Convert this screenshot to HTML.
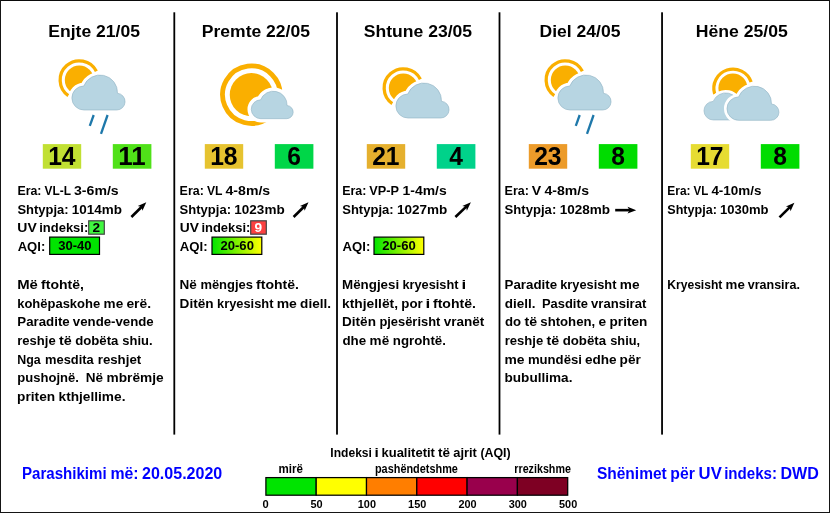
<!DOCTYPE html>
<html lang="sq"><head><meta charset="utf-8"><title>Parashikimi i motit</title>
<style>html,body{margin:0;padding:0;background:#fff}body{width:830px;height:513px;overflow:hidden}svg text{font-family:'Liberation Sans', sans-serif;font-weight:bold}</style></head>
<body>
<svg width="830" height="513" viewBox="0 0 830 513" style="display:block">
<rect x="0" y="0" width="830" height="513" fill="#fff"/>
<rect x="0" y="0" width="830" height="1" fill="#0a0a0a"/>
<rect x="0" y="0" width="1" height="513" fill="#151515"/>
<rect x="0" y="512" width="830" height="1" fill="#151515"/>
<rect x="829" y="0" width="1" height="513" fill="#151515"/>
<rect x="173.40" y="12.3" width="1.8" height="422.3" fill="#000"/>
<rect x="336.10" y="12.3" width="1.8" height="422.3" fill="#000"/>
<rect x="498.60" y="12.3" width="1.8" height="422.3" fill="#000"/>
<rect x="661.15" y="12.3" width="1.8" height="422.3" fill="#000"/>
<circle cx="79.3" cy="80" r="14.5" fill="#FAAF00"/>
<path d="M68.32 95.69A19.15 19.15 0 1 1 96.36 71.31" fill="none" stroke="#FAAF00" stroke-width="3.3"/>
<path d="M84.00 110.00A12.00 12.00 0 0 1 83.75 86.00A17.50 17.50 0 0 1 117.48 93.24A8.40 8.40 0 0 1 116.70 110.00Z" fill="#fff" stroke="#fff" stroke-width="6.60" stroke-linejoin="round"/><path d="M84.00 110.00A12.00 12.00 0 0 1 83.75 86.00A17.50 17.50 0 0 1 117.48 93.24A8.40 8.40 0 0 1 116.70 110.00Z" fill="#B7D5E2" stroke="#8FB2C3" stroke-width="0.6" stroke-linejoin="round"/>
<line x1="93.7" y1="115.0" x2="89.8" y2="125.9" stroke="#1E78AA" stroke-width="2.3"/><line x1="107.6" y1="115.0" x2="101.0" y2="133.9" stroke="#1E78AA" stroke-width="2.3"/>
<circle cx="251.35" cy="94.65" r="21.6" fill="#FAAF00"/>
<path d="M269.05 117.31A28.75 28.75 0 1 1 279.82 98.65" fill="none" stroke="#FAAF00" stroke-width="4.8"/>
<path d="M260.80 118.68A9.42 9.42 0 0 1 260.60 99.84A13.74 13.74 0 0 1 287.08 105.52A6.59 6.59 0 0 1 286.47 118.68Z" fill="#fff" stroke="#fff" stroke-width="7.60" stroke-linejoin="round"/><path d="M260.80 118.68A9.42 9.42 0 0 1 260.60 99.84A13.74 13.74 0 0 1 287.08 105.52A6.59 6.59 0 0 1 286.47 118.68Z" fill="#B7D5E2" stroke="#8FB2C3" stroke-width="0.6" stroke-linejoin="round"/>
<circle cx="403.3" cy="88" r="14.5" fill="#FAAF00"/>
<path d="M392.32 103.69A19.15 19.15 0 1 1 420.36 79.31" fill="none" stroke="#FAAF00" stroke-width="3.3"/>
<path d="M408.00 118.00A12.00 12.00 0 0 1 407.75 94.00A17.50 17.50 0 0 1 441.48 101.24A8.40 8.40 0 0 1 440.70 118.00Z" fill="#fff" stroke="#fff" stroke-width="6.60" stroke-linejoin="round"/><path d="M408.00 118.00A12.00 12.00 0 0 1 407.75 94.00A17.50 17.50 0 0 1 441.48 101.24A8.40 8.40 0 0 1 440.70 118.00Z" fill="#B7D5E2" stroke="#8FB2C3" stroke-width="0.6" stroke-linejoin="round"/>
<circle cx="565.3" cy="80" r="14.5" fill="#FAAF00"/>
<path d="M554.32 95.69A19.15 19.15 0 1 1 582.36 71.31" fill="none" stroke="#FAAF00" stroke-width="3.3"/>
<path d="M570.00 110.00A12.00 12.00 0 0 1 569.75 86.00A17.50 17.50 0 0 1 603.48 93.24A8.40 8.40 0 0 1 602.70 110.00Z" fill="#fff" stroke="#fff" stroke-width="6.60" stroke-linejoin="round"/><path d="M570.00 110.00A12.00 12.00 0 0 1 569.75 86.00A17.50 17.50 0 0 1 603.48 93.24A8.40 8.40 0 0 1 602.70 110.00Z" fill="#B7D5E2" stroke="#8FB2C3" stroke-width="0.6" stroke-linejoin="round"/>
<line x1="579.7" y1="115.0" x2="575.8" y2="125.9" stroke="#1E78AA" stroke-width="2.3"/><line x1="593.6" y1="115.0" x2="587.0" y2="133.9" stroke="#1E78AA" stroke-width="2.3"/>
<circle cx="732.9" cy="88" r="14.5" fill="#FAAF00"/>
<path d="M714.69 93.92A19.15 19.15 0 0 1 751.11 82.08" fill="none" stroke="#FAAF00" stroke-width="3.3"/>
<path d="M713.35 119.96A9.28 9.28 0 0 1 713.16 101.40A13.53 13.53 0 0 1 739.23 107.00A6.49 6.49 0 0 1 738.63 119.96Z" fill="#fff" stroke="#fff" stroke-width="6.00" stroke-linejoin="round"/><path d="M713.35 119.96A9.28 9.28 0 0 1 713.16 101.40A13.53 13.53 0 0 1 739.23 107.00A6.49 6.49 0 0 1 738.63 119.96Z" fill="#B7D5E2" stroke="#8FB2C3" stroke-width="0.6" stroke-linejoin="round"/>
<path d="M738.80 120.33A11.70 11.70 0 0 1 738.55 96.92A17.06 17.06 0 0 1 771.44 103.98A8.19 8.19 0 0 1 770.68 120.33Z" fill="#fff" stroke="#fff" stroke-width="6.00" stroke-linejoin="round"/><path d="M738.80 120.33A11.70 11.70 0 0 1 738.55 96.92A17.06 17.06 0 0 1 771.44 103.98A8.19 8.19 0 0 1 770.68 120.33Z" fill="#B7D5E2" stroke="#8FB2C3" stroke-width="0.6" stroke-linejoin="round"/>
<rect x="42.8" y="144.1" width="38.4" height="24.6" fill="#C1E033"/>
<rect x="112.8" y="144.1" width="38.6" height="24.6" fill="#50E119"/>
<rect x="204.8" y="144.1" width="38.4" height="24.6" fill="#E6C330"/>
<rect x="274.8" y="144.1" width="38.6" height="24.6" fill="#00D648"/>
<rect x="366.8" y="144.1" width="38.4" height="24.6" fill="#E5B02E"/>
<rect x="436.8" y="144.1" width="38.6" height="24.6" fill="#00D28A"/>
<rect x="528.8" y="144.1" width="38.4" height="24.6" fill="#EC9B2A"/>
<rect x="598.8" y="144.1" width="38.6" height="24.6" fill="#00DC00"/>
<rect x="690.8" y="144.1" width="38.4" height="24.6" fill="#E6DC32"/>
<rect x="760.8" y="144.1" width="38.6" height="24.6" fill="#00DC00"/>
<g transform="translate(131.40 217.00) rotate(-44.61)"><rect x="0" y="-1.3" width="14.93" height="2.6" fill="#000"/><path d="M20.93 0L12.23 -3.3L14.33 0L12.23 3.3Z" fill="#000"/></g>
<g transform="translate(293.60 217.00) rotate(-44.61)"><rect x="0" y="-1.3" width="14.93" height="2.6" fill="#000"/><path d="M20.93 0L12.23 -3.3L14.33 0L12.23 3.3Z" fill="#000"/></g>
<g transform="translate(455.40 217.00) rotate(-43.48)"><rect x="0" y="-1.3" width="15.36" height="2.6" fill="#000"/><path d="M21.36 0L12.66 -3.3L14.76 0L12.66 3.3Z" fill="#000"/></g>
<g transform="translate(615.20 210.15) rotate(0.00)"><rect x="0" y="-1.3" width="15.00" height="2.6" fill="#000"/><path d="M21.00 0L12.30 -3.3L14.40 0L12.30 3.3Z" fill="#000"/></g>
<g transform="translate(779.50 217.40) rotate(-44.61)"><rect x="0" y="-1.3" width="14.93" height="2.6" fill="#000"/><path d="M20.93 0L12.23 -3.3L14.33 0L12.23 3.3Z" fill="#000"/></g>
<rect x="88.7" y="220.8" width="15.6" height="13.4" fill="#40F840" stroke="#444" stroke-width="1.2"/>
<rect x="250.7" y="220.8" width="15.6" height="13.4" fill="#FC4040" stroke="#444" stroke-width="1.2"/>
<defs><linearGradient id="gy" x1="0" x2="1" y1="0" y2="0"><stop offset="0" stop-color="#00E400"/><stop offset="1" stop-color="#FFFF00"/></linearGradient></defs>
<rect x="49.7" y="237.1" width="49.8" height="17.3" fill="#00E400" stroke="#000" stroke-width="1.2"/>
<rect x="212.0" y="237.1" width="49.8" height="17.3" fill="url(#gy)" stroke="#000" stroke-width="1.2"/>
<rect x="374.0" y="237.1" width="49.8" height="17.3" fill="url(#gy)" stroke="#000" stroke-width="1.2"/>
<rect x="265.90" y="477.6" width="50.3" height="17.6" fill="#00E400" stroke="#000" stroke-width="1.25"/>
<rect x="316.20" y="477.6" width="50.3" height="17.6" fill="#FFFF00" stroke="#000" stroke-width="1.25"/>
<rect x="366.50" y="477.6" width="50.3" height="17.6" fill="#FF7E00" stroke="#000" stroke-width="1.25"/>
<rect x="416.80" y="477.6" width="50.3" height="17.6" fill="#FF0000" stroke="#000" stroke-width="1.25"/>
<rect x="467.10" y="477.6" width="50.3" height="17.6" fill="#99004C" stroke="#000" stroke-width="1.25"/>
<rect x="517.40" y="477.6" width="50.3" height="17.6" fill="#7E0023" stroke="#000" stroke-width="1.25"/>
<g font-family="'Liberation Sans', sans-serif" font-weight="bold">
<text x="61.85" y="165.00" font-size="26.2" text-anchor="middle" textLength="27.40" lengthAdjust="spacingAndGlyphs">14</text>
<text x="132.05" y="165.00" font-size="26.2" text-anchor="middle" textLength="27.40" lengthAdjust="spacingAndGlyphs">11</text>
<text x="223.85" y="165.00" font-size="26.2" text-anchor="middle" textLength="27.40" lengthAdjust="spacingAndGlyphs">18</text>
<text x="294.05" y="165.00" font-size="26.2" text-anchor="middle" textLength="13.70" lengthAdjust="spacingAndGlyphs">6</text>
<text x="385.85" y="165.00" font-size="26.2" text-anchor="middle" textLength="27.40" lengthAdjust="spacingAndGlyphs">21</text>
<text x="456.05" y="165.00" font-size="26.2" text-anchor="middle" textLength="13.70" lengthAdjust="spacingAndGlyphs">4</text>
<text x="547.85" y="165.00" font-size="26.2" text-anchor="middle" textLength="27.40" lengthAdjust="spacingAndGlyphs">23</text>
<text x="618.05" y="165.00" font-size="26.2" text-anchor="middle" textLength="13.70" lengthAdjust="spacingAndGlyphs">8</text>
<text x="709.85" y="165.00" font-size="26.2" text-anchor="middle" textLength="27.40" lengthAdjust="spacingAndGlyphs">17</text>
<text x="780.05" y="165.00" font-size="26.2" text-anchor="middle" textLength="13.70" lengthAdjust="spacingAndGlyphs">8</text>
<text x="48.26" y="36.80" font-size="17.33" textLength="91.72" lengthAdjust="spacingAndGlyphs">Enjte 21/05</text>
<text x="201.80" y="36.80" font-size="17.33" textLength="108.20" lengthAdjust="spacingAndGlyphs">Premte 22/05</text>
<text x="363.77" y="36.80" font-size="17.33" textLength="108.39" lengthAdjust="spacingAndGlyphs">Shtune 23/05</text>
<text x="539.53" y="36.80" font-size="17.33" textLength="80.93" lengthAdjust="spacingAndGlyphs">Diel 24/05</text>
<text x="695.80" y="36.80" font-size="17.33" textLength="92.03" lengthAdjust="spacingAndGlyphs">Hëne 25/05</text>
<text y="194.90" font-size="13.0" transform="translate(0 195.10) scale(1 1.035) translate(0 -194.90)"><tspan x="17.39" textLength="24.06" lengthAdjust="spacingAndGlyphs">Era:</tspan> <tspan x="44.54" textLength="26.35" lengthAdjust="spacingAndGlyphs">VL-L</tspan> <tspan x="74.03" textLength="44.70" lengthAdjust="spacingAndGlyphs">3-6m/s</tspan></text>
<text y="213.60" font-size="13.0" transform="translate(0 213.80) scale(1 1.035) translate(0 -213.60)"><tspan x="17.44" textLength="51.21" lengthAdjust="spacingAndGlyphs">Shtypja:</tspan> <tspan x="71.87" textLength="50.15" lengthAdjust="spacingAndGlyphs">1014mb</tspan></text>
<text y="232.30" font-size="13.0" transform="translate(0 232.50) scale(1 1.035) translate(0 -232.30)"><tspan x="17.37" textLength="19.38" lengthAdjust="spacingAndGlyphs">UV</tspan> <tspan x="39.20" textLength="49.04" lengthAdjust="spacingAndGlyphs">indeksi:</tspan></text>
<text y="251.00" font-size="13.0" transform="translate(0 251.20) scale(1 1.035) translate(0 -251.00)"><tspan x="17.69" textLength="27.57" lengthAdjust="spacingAndGlyphs">AQI:</tspan></text>
<text y="288.70" font-size="13.0" transform="translate(0 288.90) scale(1 1.035) translate(0 -288.70)"><tspan x="17.17" textLength="20.70" lengthAdjust="spacingAndGlyphs">Më</tspan> <tspan x="41.08" textLength="42.83" lengthAdjust="spacingAndGlyphs">ftohtë,</tspan></text>
<text y="307.40" font-size="13.0" transform="translate(0 307.60) scale(1 1.035) translate(0 -307.40)"><tspan x="17.18" textLength="83.02" lengthAdjust="spacingAndGlyphs">kohëpaskohe</tspan> <tspan x="103.58" textLength="19.59" lengthAdjust="spacingAndGlyphs">me</tspan> <tspan x="126.40" textLength="24.64" lengthAdjust="spacingAndGlyphs">erë.</tspan></text>
<text y="326.10" font-size="13.0" transform="translate(0 326.30) scale(1 1.035) translate(0 -326.10)"><tspan x="17.32" textLength="52.36" lengthAdjust="spacingAndGlyphs">Paradite</tspan> <tspan x="72.84" textLength="80.86" lengthAdjust="spacingAndGlyphs">vende-vende</tspan></text>
<text y="344.80" font-size="13.0" transform="translate(0 345.00) scale(1 1.035) translate(0 -344.80)"><tspan x="17.26" textLength="38.47" lengthAdjust="spacingAndGlyphs">reshje</tspan> <tspan x="58.97" textLength="12.79" lengthAdjust="spacingAndGlyphs">të</tspan> <tspan x="75.15" textLength="43.25" lengthAdjust="spacingAndGlyphs">dobëta</tspan> <tspan x="122.34" textLength="30.25" lengthAdjust="spacingAndGlyphs">shiu.</tspan></text>
<text y="363.50" font-size="13.0" transform="translate(0 363.70) scale(1 1.035) translate(0 -363.50)"><tspan x="17.24" textLength="23.42" lengthAdjust="spacingAndGlyphs">Nga</tspan> <tspan x="45.05" textLength="48.72" lengthAdjust="spacingAndGlyphs">mesdita</tspan> <tspan x="97.74" textLength="43.45" lengthAdjust="spacingAndGlyphs">reshjet</tspan></text>
<text y="382.20" font-size="13.0" transform="translate(0 382.40) scale(1 1.035) translate(0 -382.20)"><tspan x="17.35" textLength="61.56" lengthAdjust="spacingAndGlyphs">pushojnë.</tspan> <tspan x="85.85" textLength="17.32" lengthAdjust="spacingAndGlyphs">Në</tspan> <tspan x="106.55" textLength="57.15" lengthAdjust="spacingAndGlyphs">mbrëmje</tspan></text>
<text y="400.90" font-size="13.0" transform="translate(0 401.10) scale(1 1.035) translate(0 -400.90)"><tspan x="17.13" textLength="38.00" lengthAdjust="spacingAndGlyphs">priten</tspan> <tspan x="58.57" textLength="66.88" lengthAdjust="spacingAndGlyphs">kthjellime.</tspan></text>
<text y="194.90" font-size="13.0" transform="translate(0 195.10) scale(1 1.035) translate(0 -194.90)"><tspan x="179.61" textLength="24.18" lengthAdjust="spacingAndGlyphs">Era:</tspan> <tspan x="206.92" textLength="15.55" lengthAdjust="spacingAndGlyphs">VL</tspan> <tspan x="225.52" textLength="44.69" lengthAdjust="spacingAndGlyphs">4-8m/s</tspan></text>
<text y="213.60" font-size="13.0" transform="translate(0 213.80) scale(1 1.035) translate(0 -213.60)"><tspan x="179.60" textLength="51.45" lengthAdjust="spacingAndGlyphs">Shtypja:</tspan> <tspan x="234.35" textLength="50.30" lengthAdjust="spacingAndGlyphs">1023mb</tspan></text>
<text y="232.30" font-size="13.0" transform="translate(0 232.50) scale(1 1.035) translate(0 -232.30)"><tspan x="179.71" textLength="19.17" lengthAdjust="spacingAndGlyphs">UV</tspan> <tspan x="201.40" textLength="48.88" lengthAdjust="spacingAndGlyphs">indeksi:</tspan></text>
<text y="251.00" font-size="13.0" transform="translate(0 251.20) scale(1 1.035) translate(0 -251.00)"><tspan x="179.83" textLength="27.85" lengthAdjust="spacingAndGlyphs">AQI:</tspan></text>
<text y="288.70" font-size="13.0" transform="translate(0 288.90) scale(1 1.035) translate(0 -288.70)"><tspan x="179.61" textLength="17.32" lengthAdjust="spacingAndGlyphs">Në</tspan> <tspan x="200.41" textLength="52.53" lengthAdjust="spacingAndGlyphs">mëngjes</tspan> <tspan x="256.05" textLength="42.90" lengthAdjust="spacingAndGlyphs">ftohtë.</tspan></text>
<text y="307.40" font-size="13.0" transform="translate(0 307.60) scale(1 1.035) translate(0 -307.40)"><tspan x="179.60" textLength="34.00" lengthAdjust="spacingAndGlyphs">Ditën</tspan> <tspan x="217.05" textLength="56.39" lengthAdjust="spacingAndGlyphs">kryesisht</tspan> <tspan x="276.66" textLength="20.21" lengthAdjust="spacingAndGlyphs">me</tspan> <tspan x="300.13" textLength="30.90" lengthAdjust="spacingAndGlyphs">diell.</tspan></text>
<text y="194.90" font-size="13.0" transform="translate(0 195.10) scale(1 1.035) translate(0 -194.90)"><tspan x="342.26" textLength="24.16" lengthAdjust="spacingAndGlyphs">Era:</tspan> <tspan x="369.30" textLength="29.65" lengthAdjust="spacingAndGlyphs">VP-P</tspan> <tspan x="402.48" textLength="44.21" lengthAdjust="spacingAndGlyphs">1-4m/s</tspan></text>
<text y="213.60" font-size="13.0" transform="translate(0 213.80) scale(1 1.035) translate(0 -213.60)"><tspan x="342.20" textLength="51.41" lengthAdjust="spacingAndGlyphs">Shtypja:</tspan> <tspan x="396.97" textLength="50.32" lengthAdjust="spacingAndGlyphs">1027mb</tspan></text>
<text y="251.00" font-size="13.0" transform="translate(0 251.20) scale(1 1.035) translate(0 -251.00)"><tspan x="342.58" textLength="27.76" lengthAdjust="spacingAndGlyphs">AQI:</tspan></text>
<text y="288.70" font-size="13.0" transform="translate(0 288.90) scale(1 1.035) translate(0 -288.70)"><tspan x="342.09" textLength="57.08" lengthAdjust="spacingAndGlyphs">Mëngjesi</tspan> <tspan x="402.40" textLength="56.06" lengthAdjust="spacingAndGlyphs">kryesisht</tspan> <tspan x="461.60" textLength="4.71" lengthAdjust="spacingAndGlyphs">i</tspan></text>
<text y="307.40" font-size="13.0" transform="translate(0 307.60) scale(1 1.035) translate(0 -307.40)"><tspan x="342.03" textLength="55.96" lengthAdjust="spacingAndGlyphs">kthjellët,</tspan> <tspan x="401.31" textLength="21.41" lengthAdjust="spacingAndGlyphs">por</tspan> <tspan x="425.57" textLength="4.77" lengthAdjust="spacingAndGlyphs">i</tspan> <tspan x="433.02" textLength="42.94" lengthAdjust="spacingAndGlyphs">ftohtë.</tspan></text>
<text y="326.10" font-size="13.0" transform="translate(0 326.30) scale(1 1.035) translate(0 -326.10)"><tspan x="342.05" textLength="33.87" lengthAdjust="spacingAndGlyphs">Ditën</tspan> <tspan x="379.39" textLength="60.94" lengthAdjust="spacingAndGlyphs">pjesërisht</tspan> <tspan x="443.71" textLength="40.59" lengthAdjust="spacingAndGlyphs">vranët</tspan></text>
<text y="344.80" font-size="13.0" transform="translate(0 345.00) scale(1 1.035) translate(0 -344.80)"><tspan x="342.39" textLength="23.78" lengthAdjust="spacingAndGlyphs">dhe</tspan> <tspan x="369.61" textLength="19.56" lengthAdjust="spacingAndGlyphs">më</tspan> <tspan x="392.81" textLength="53.08" lengthAdjust="spacingAndGlyphs">ngrohtë.</tspan></text>
<text y="194.90" font-size="13.0" transform="translate(0 195.10) scale(1 1.035) translate(0 -194.90)"><tspan x="504.60" textLength="24.38" lengthAdjust="spacingAndGlyphs">Era:</tspan> <tspan x="531.81" textLength="9.41" lengthAdjust="spacingAndGlyphs">V</tspan> <tspan x="544.45" textLength="44.55" lengthAdjust="spacingAndGlyphs">4-8m/s</tspan></text>
<text y="213.60" font-size="13.0" transform="translate(0 213.80) scale(1 1.035) translate(0 -213.60)"><tspan x="504.53" textLength="51.74" lengthAdjust="spacingAndGlyphs">Shtypja:</tspan> <tspan x="559.65" textLength="50.44" lengthAdjust="spacingAndGlyphs">1028mb</tspan></text>
<text y="288.70" font-size="13.0" transform="translate(0 288.90) scale(1 1.035) translate(0 -288.70)"><tspan x="504.57" textLength="52.51" lengthAdjust="spacingAndGlyphs">Paradite</tspan> <tspan x="560.26" textLength="56.18" lengthAdjust="spacingAndGlyphs">kryesisht</tspan> <tspan x="619.88" textLength="19.72" lengthAdjust="spacingAndGlyphs">me</tspan></text>
<text y="307.40" font-size="13.0" transform="translate(0 307.60) scale(1 1.035) translate(0 -307.40)"><tspan x="504.75" textLength="30.68" lengthAdjust="spacingAndGlyphs">diell.</tspan> <tspan x="541.97" textLength="45.96" lengthAdjust="spacingAndGlyphs">Pasdite</tspan> <tspan x="591.07" textLength="55.25" lengthAdjust="spacingAndGlyphs">vransirat</tspan></text>
<text y="326.10" font-size="13.0" transform="translate(0 326.30) scale(1 1.035) translate(0 -326.10)"><tspan x="504.97" textLength="16.07" lengthAdjust="spacingAndGlyphs">do</tspan> <tspan x="524.57" textLength="12.61" lengthAdjust="spacingAndGlyphs">të</tspan> <tspan x="540.32" textLength="54.88" lengthAdjust="spacingAndGlyphs">shtohen,</tspan> <tspan x="598.47" textLength="7.65" lengthAdjust="spacingAndGlyphs">e</tspan> <tspan x="609.58" textLength="37.74" lengthAdjust="spacingAndGlyphs">priten</tspan></text>
<text y="344.80" font-size="13.0" transform="translate(0 345.00) scale(1 1.035) translate(0 -344.80)"><tspan x="504.68" textLength="38.49" lengthAdjust="spacingAndGlyphs">reshje</tspan> <tspan x="546.51" textLength="12.71" lengthAdjust="spacingAndGlyphs">të</tspan> <tspan x="562.67" textLength="43.50" lengthAdjust="spacingAndGlyphs">dobëta</tspan> <tspan x="610.25" textLength="29.91" lengthAdjust="spacingAndGlyphs">shiu,</tspan></text>
<text y="363.50" font-size="13.0" transform="translate(0 363.70) scale(1 1.035) translate(0 -363.50)"><tspan x="504.44" textLength="20.05" lengthAdjust="spacingAndGlyphs">me</tspan> <tspan x="527.91" textLength="53.98" lengthAdjust="spacingAndGlyphs">mundësi</tspan> <tspan x="584.88" textLength="31.64" lengthAdjust="spacingAndGlyphs">edhe</tspan> <tspan x="619.59" textLength="21.22" lengthAdjust="spacingAndGlyphs">për</tspan></text>
<text y="382.20" font-size="13.0" transform="translate(0 382.40) scale(1 1.035) translate(0 -382.20)"><tspan x="504.54" textLength="67.88" lengthAdjust="spacingAndGlyphs">bubullima.</tspan></text>
<text y="194.90" font-size="13.0" transform="translate(0 195.10) scale(1 1.035) translate(0 -194.90)"><tspan x="667.32" textLength="23.16" lengthAdjust="spacingAndGlyphs">Era:</tspan> <tspan x="693.57" textLength="14.74" lengthAdjust="spacingAndGlyphs">VL</tspan> <tspan x="711.41" textLength="50.10" lengthAdjust="spacingAndGlyphs">4-10m/s</tspan></text>
<text y="213.60" font-size="13.0" transform="translate(0 213.80) scale(1 1.035) translate(0 -213.60)"><tspan x="667.30" textLength="49.59" lengthAdjust="spacingAndGlyphs">Shtypja:</tspan> <tspan x="720.01" textLength="48.61" lengthAdjust="spacingAndGlyphs">1030mb</tspan></text>
<text y="288.70" font-size="13.0" transform="translate(0 288.90) scale(1 1.035) translate(0 -288.70)"><tspan x="667.22" textLength="55.19" lengthAdjust="spacingAndGlyphs">Kryesisht</tspan> <tspan x="725.59" textLength="19.22" lengthAdjust="spacingAndGlyphs">me</tspan> <tspan x="747.70" textLength="52.20" lengthAdjust="spacingAndGlyphs">vransira.</tspan></text>
<text x="96.40" y="232.30" font-size="13.7" text-anchor="middle">2</text>
<text x="258.30" y="232.30" font-size="13.7" text-anchor="middle" fill="#fff">9</text>
<text x="74.90" y="250.10" font-size="12.2" text-anchor="middle" textLength="33.40" lengthAdjust="spacingAndGlyphs">30-40</text>
<text x="237.20" y="250.10" font-size="12.2" text-anchor="middle" textLength="33.40" lengthAdjust="spacingAndGlyphs">20-60</text>
<text x="399.00" y="250.10" font-size="12.2" text-anchor="middle" textLength="33.40" lengthAdjust="spacingAndGlyphs">20-60</text>
<text y="478.80" font-size="15.8" fill="#0000FF"><tspan x="21.99" textLength="84.67" lengthAdjust="spacingAndGlyphs">Parashikimi</tspan> <tspan x="110.41" textLength="28.20" lengthAdjust="spacingAndGlyphs">më:</tspan> <tspan x="141.97" textLength="80.32" lengthAdjust="spacingAndGlyphs">20.05.2020</tspan></text>
<text y="478.80" font-size="15.8" fill="#0000FF"><tspan x="596.91" textLength="69.86" lengthAdjust="spacingAndGlyphs">Shënimet</tspan> <tspan x="670.30" textLength="24.55" lengthAdjust="spacingAndGlyphs">për</tspan> <tspan x="698.63" textLength="23.19" lengthAdjust="spacingAndGlyphs">UV</tspan> <tspan x="724.17" textLength="52.86" lengthAdjust="spacingAndGlyphs">indeks:</tspan> <tspan x="780.46" textLength="38.35" lengthAdjust="spacingAndGlyphs">DWD</tspan></text>
<text y="456.50" font-size="11.8" transform="translate(0 456.70) scale(1 1.02) translate(0 -456.50)"><tspan x="330.30" textLength="41.64" lengthAdjust="spacingAndGlyphs">Indeksi</tspan> <tspan x="374.46" textLength="4.28" lengthAdjust="spacingAndGlyphs">i</tspan> <tspan x="381.50" textLength="53.42" lengthAdjust="spacingAndGlyphs">kualitetit</tspan> <tspan x="437.97" textLength="12.01" lengthAdjust="spacingAndGlyphs">të</tspan> <tspan x="453.30" textLength="23.57" lengthAdjust="spacingAndGlyphs">ajrit</tspan> <tspan x="480.40" textLength="30.30" lengthAdjust="spacingAndGlyphs">(AQI)</tspan></text>
<text y="472.80" font-size="11.8" transform="translate(0 473.00) scale(1 1.02) translate(0 -472.80)"><tspan x="278.53" textLength="24.43" lengthAdjust="spacingAndGlyphs">mirë</tspan></text>
<text y="472.80" font-size="11.8" transform="translate(0 473.00) scale(1 1.02) translate(0 -472.80)"><tspan x="374.98" textLength="82.96" lengthAdjust="spacingAndGlyphs">pashëndetshme</tspan></text>
<text y="472.80" font-size="11.8" transform="translate(0 473.00) scale(1 1.02) translate(0 -472.80)"><tspan x="514.30" textLength="56.62" lengthAdjust="spacingAndGlyphs">rrezikshme</tspan></text>
<text x="265.70" y="507.50" font-size="11.6" text-anchor="middle" textLength="6.20" lengthAdjust="spacingAndGlyphs">0</text>
<text x="316.60" y="507.50" font-size="11.6" text-anchor="middle" textLength="12.20" lengthAdjust="spacingAndGlyphs">50</text>
<text x="366.90" y="507.50" font-size="11.6" text-anchor="middle" textLength="18.20" lengthAdjust="spacingAndGlyphs">100</text>
<text x="417.20" y="507.50" font-size="11.6" text-anchor="middle" textLength="18.20" lengthAdjust="spacingAndGlyphs">150</text>
<text x="467.50" y="507.50" font-size="11.6" text-anchor="middle" textLength="18.20" lengthAdjust="spacingAndGlyphs">200</text>
<text x="517.80" y="507.50" font-size="11.6" text-anchor="middle" textLength="18.20" lengthAdjust="spacingAndGlyphs">300</text>
<text x="568.10" y="507.50" font-size="11.6" text-anchor="middle" textLength="18.20" lengthAdjust="spacingAndGlyphs">500</text>
</g></svg>
</body></html>
